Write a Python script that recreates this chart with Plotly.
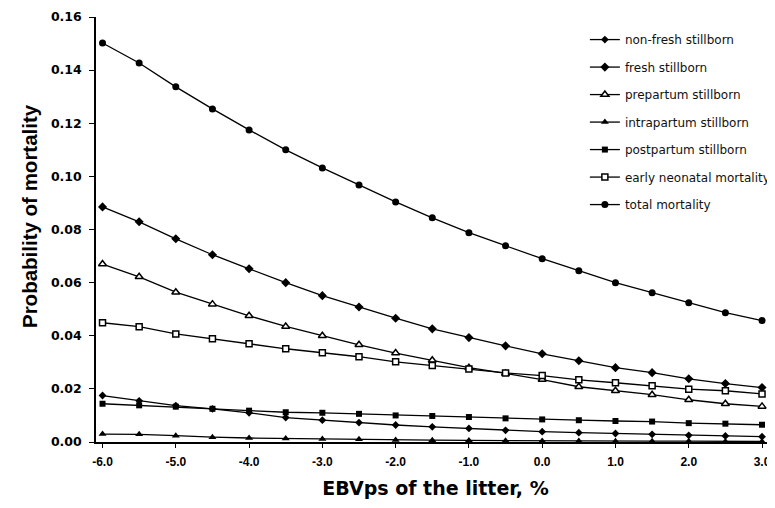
import plotly.graph_objects as go

ebv = [-6.0, -5.5, -5.0, -4.5, -4.0, -3.5, -3.0, -2.5, -2.0, -1.5,
       -1.0, -0.5, 0.0, 0.5, 1.0, 1.5, 2.0, 2.5, 3.0]

non_fresh = [0.0175, 0.0155, 0.0137, 0.0125, 0.0110, 0.0092, 0.0082, 0.0073, 0.0064, 0.0057,
             0.0051, 0.0044, 0.0039, 0.0035, 0.0032, 0.0029, 0.0025, 0.0023, 0.0020]
fresh = [0.0885, 0.0829, 0.0765, 0.0705, 0.0652, 0.0600, 0.0551, 0.0508, 0.0466, 0.0426,
         0.0393, 0.0362, 0.0332, 0.0306, 0.0280, 0.0261, 0.0238, 0.0220, 0.0205]
prepartum = [0.0670, 0.0622, 0.0564, 0.0519, 0.0475, 0.0435, 0.0400, 0.0366, 0.0335, 0.0308,
             0.0280, 0.0258, 0.0235, 0.0208, 0.0193, 0.0178, 0.0159, 0.0144, 0.0134]
intrapartum = [0.0030, 0.0029, 0.0024, 0.0018, 0.0015, 0.0013, 0.0011, 0.0010, 0.0008, 0.0007,
               0.0006, 0.0005, 0.0004, 0.0004, 0.0003, 0.0003, 0.0003, 0.0002, 0.0002]
postpartum = [0.0144, 0.0138, 0.0133, 0.0125, 0.0118, 0.0112, 0.0110, 0.0106, 0.0100, 0.0098,
              0.0094, 0.0089, 0.0085, 0.0082, 0.0079, 0.0077, 0.0071, 0.0069, 0.0065]
early_neonatal = [0.0449, 0.0434, 0.0407, 0.0389, 0.0370, 0.0351, 0.0336, 0.0321, 0.0302, 0.0288,
                  0.0275, 0.0260, 0.0250, 0.0234, 0.0223, 0.0212, 0.0199, 0.0193, 0.0181]
total = [0.1502, 0.1427, 0.1337, 0.1254, 0.1175, 0.1100, 0.1032, 0.0968, 0.0904, 0.0844,
         0.0788, 0.0739, 0.0690, 0.0645, 0.0600, 0.0562, 0.0524, 0.0487, 0.0457]

x_ticks = [-6.0, -5.0, -4.0, -3.0, -2.0, -1.0, 0.0, 1.0, 2.0, 3.0]
x_tick_labels = ["-6.0", "-5.0", "-4.0", "-3.0", "-2.0", "-1.0", "0.0", "1.0", "2.0", "3.0"]
y_ticks = [0.00, 0.02, 0.04, 0.06, 0.08, 0.10, 0.12, 0.14, 0.16]

series = [
    ("non-fresh stillborn", non_fresh, dict(symbol="diamond", size=6, color="black")),
    ("fresh stillborn", fresh, dict(symbol="diamond", size=7, color="black")),
    ("prepartum stillborn", prepartum, dict(symbol="triangle-up", size=7, color="white",
                                            line=dict(color="black", width=1.5))),
    ("intrapartum stillborn", intrapartum, dict(symbol="triangle-up", size=7, color="black")),
    ("postpartum stillborn", postpartum, dict(symbol="square", size=6, color="black")),
    ("early neonatal mortality", early_neonatal, dict(symbol="square", size=6, color="white",
                                                      line=dict(color="black", width=1.5))),
    ("total mortality", total, dict(symbol="circle", size=7, color="black")),
]

fig = go.Figure()
for i, (name, vals, mk) in enumerate(series):
    fig.add_trace(go.Scatter(
        x=ebv, y=vals, name=name, mode="lines+markers",
        line=dict(color="black", width=1.3),
        marker=mk, legendgroup=f"g{i}",
    ))

# the page body has an 8px margin, so the figure is sized/placed to compensate
fig.update_layout(
    width=767, height=500,
    margin=dict(l=88, r=0, t=9, b=65.5, autoexpand=False),
    paper_bgcolor="white", plot_bgcolor="white",
    font=dict(family="Liberation Sans, Arial, sans-serif", color="black"),
    showlegend=True,
    legend=dict(
        x=0.72, y=0.981, xanchor="left", yanchor="top",
        font=dict(size=12, family="DejaVu Sans", color="#111"), bgcolor="rgba(0,0,0,0)",
        tracegroupgap=8.5, itemwidth=30,
    ),
    xaxis=dict(
        range=[-6.089, 3.177], tickmode="array", tickvals=x_ticks, ticktext=x_tick_labels,
        showgrid=False, zeroline=False, showline=True, linecolor="black", linewidth=1.5,
        ticks="outside", ticklen=4, tickcolor="black", automargin=False,
        ticklabelstandoff=4,
        tickfont=dict(size=12, family="Liberation Sans, Arial", weight="bold"),
        title=dict(text="EBVps of the litter, %", standoff=14,
                   font=dict(size=19, family="DejaVu Sans", weight="bold")),
    ),
    yaxis=dict(
        range=[0, 0.16], tickmode="array", tickvals=y_ticks, tickformat=".2f",
        showgrid=False, zeroline=False, showline=True, linecolor="black", linewidth=1.5,
        ticks="outside", ticklen=5, tickcolor="black", automargin=False,
        ticklabelstandoff=5,
        tickfont=dict(size=12.5, family="DejaVu Sans", weight="bold"),
    ),
    annotations=[dict(
        text="Probability of mortality", textangle=-90,
        xref="paper", yref="paper", x=-0.097, y=0.532,
        xanchor="center", yanchor="middle", showarrow=False,
        font=dict(size=20.5, family="Liberation Sans, Arial", weight="bold"),
    )],
)

fig.write_html("out.html")
